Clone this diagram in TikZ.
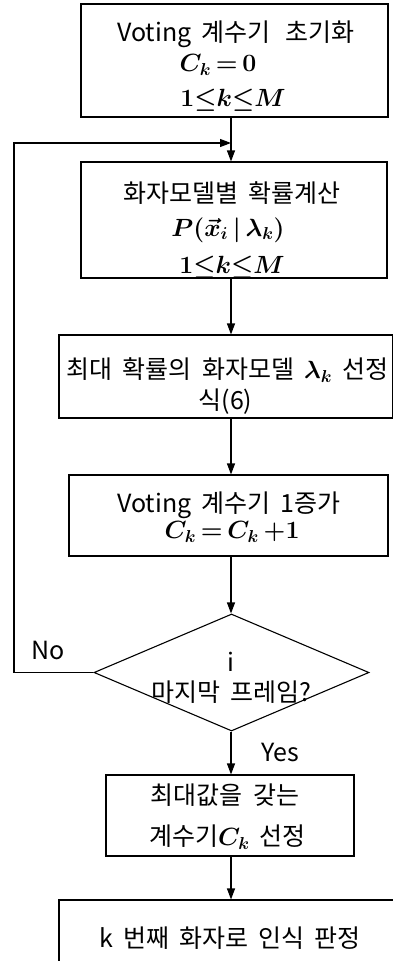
\documentclass[tikz,border=0pt]{standalone}
\usepackage{amsmath}
\usepackage[no-math]{fontspec}
\setmainfont[WordSpace=1.8]{Noto Sans CJK KR}
\usetikzlibrary{arrows.meta,shapes.geometric,calc}
\tikzset{
  box/.style={draw, line width=1.1pt, inner sep=0pt},
  txt/.style={inner sep=0pt, font=\fontsize{25}{29}\selectfont\mathversion{bold}},
  mth/.style={inner sep=0pt, font=\fontsize{23}{27}\selectfont\mathversion{bold}},
  arr/.style={line width=1.1pt, -{Triangle[length=11pt,width=8pt]}},
}
\begin{document}
\begin{tikzpicture}[x=1pt,y=-1pt]
\clip (0,0) rectangle (393,961);
% boxes
\node[box, minimum width=307pt, minimum height=113pt] (b1) at (234.5,60.5) {};
\node[box, minimum width=306pt, minimum height=116pt] (b2) at (234,220) {};
\node[box, minimum width=334pt, minimum height=83pt] (b3) at (226,376.5) {};
\node[box, minimum width=319pt, minimum height=81pt] (b4) at (228.5,515.5) {};
\node[box, diamond, aspect=2.35, minimum width=275pt, minimum height=117pt] (dia) at (231.5,672.5) {};
\node[box, minimum width=248pt, minimum height=81pt] (b5) at (230,815.5) {};
\node[box, minimum width=342pt, minimum height=100pt] (b6) at (230,950) {};
% texts
\node[txt] (t1a) at (236,34) {Voting 계수기\hspace{0.2em} 초기화};
\node[mth] (t1b) at (218,65) {$C_k\,{=}\,0$};
\node[mth] (t1c) at (233,100) {$1{\le}k{\le}M$};
\node[txt] (t2a) at (232,193) {화자모델별 확률계산};
\node[mth] (t2b) at (228,230) {$P(\vec{x}_i\,|\,\lambda_k)$};
\node[mth] (t2c) at (232,267) {$1{\le}k{\le}M$};
\node[txt] (t3a) at (227.5,370) {최대 확률의 화자모델 $\lambda_k$ 선정};
\node[txt] (t3b) at (225.5,402) {식(6)};
\node[txt] (t4a) at (229,505) {Voting 계수기 1증가};
\node[mth] (t4b) at (232,532) {$C_k\,{=}\,C_k\,{+}1$};
\node[txt] (tda) at (231,662) {i};
\node[txt] (tdb) at (231,692) {마지막 프레임?};
\node[txt] (t5a) at (225,795) {최대값을 갖는};
\node[txt] (t5b) at (227.5,837) {계수기$C_k$ 선정};
\node[txt] (t6) at (230,938) {k 번째 화자로 인식 판정};
\node[txt] (no) at (48,650) {No};
\node[txt] (yes) at (280,752) {Yes};
% connectors
\coordinate (ax) at (231,0);
\coordinate (lt) at (14,143);
\coordinate (lj) at (231,143);
\draw[arr] (b1.south -| ax) -- (b2.north -| ax);
\draw[arr] (dia.west) -| (lt) -- (lj);
\draw[arr] (b2.south -| ax) -- (b3.north -| ax);
\draw[arr] (b3.south -| ax) -- (b4.north -| ax);
\draw[arr] (b4.south -| ax) -- (dia.north -| ax);
\draw[arr] (dia.south -| ax) -- (b5.north -| ax);
\draw[arr] (b5.south -| ax) -- (b6.north -| ax);
\end{tikzpicture}
\end{document}
